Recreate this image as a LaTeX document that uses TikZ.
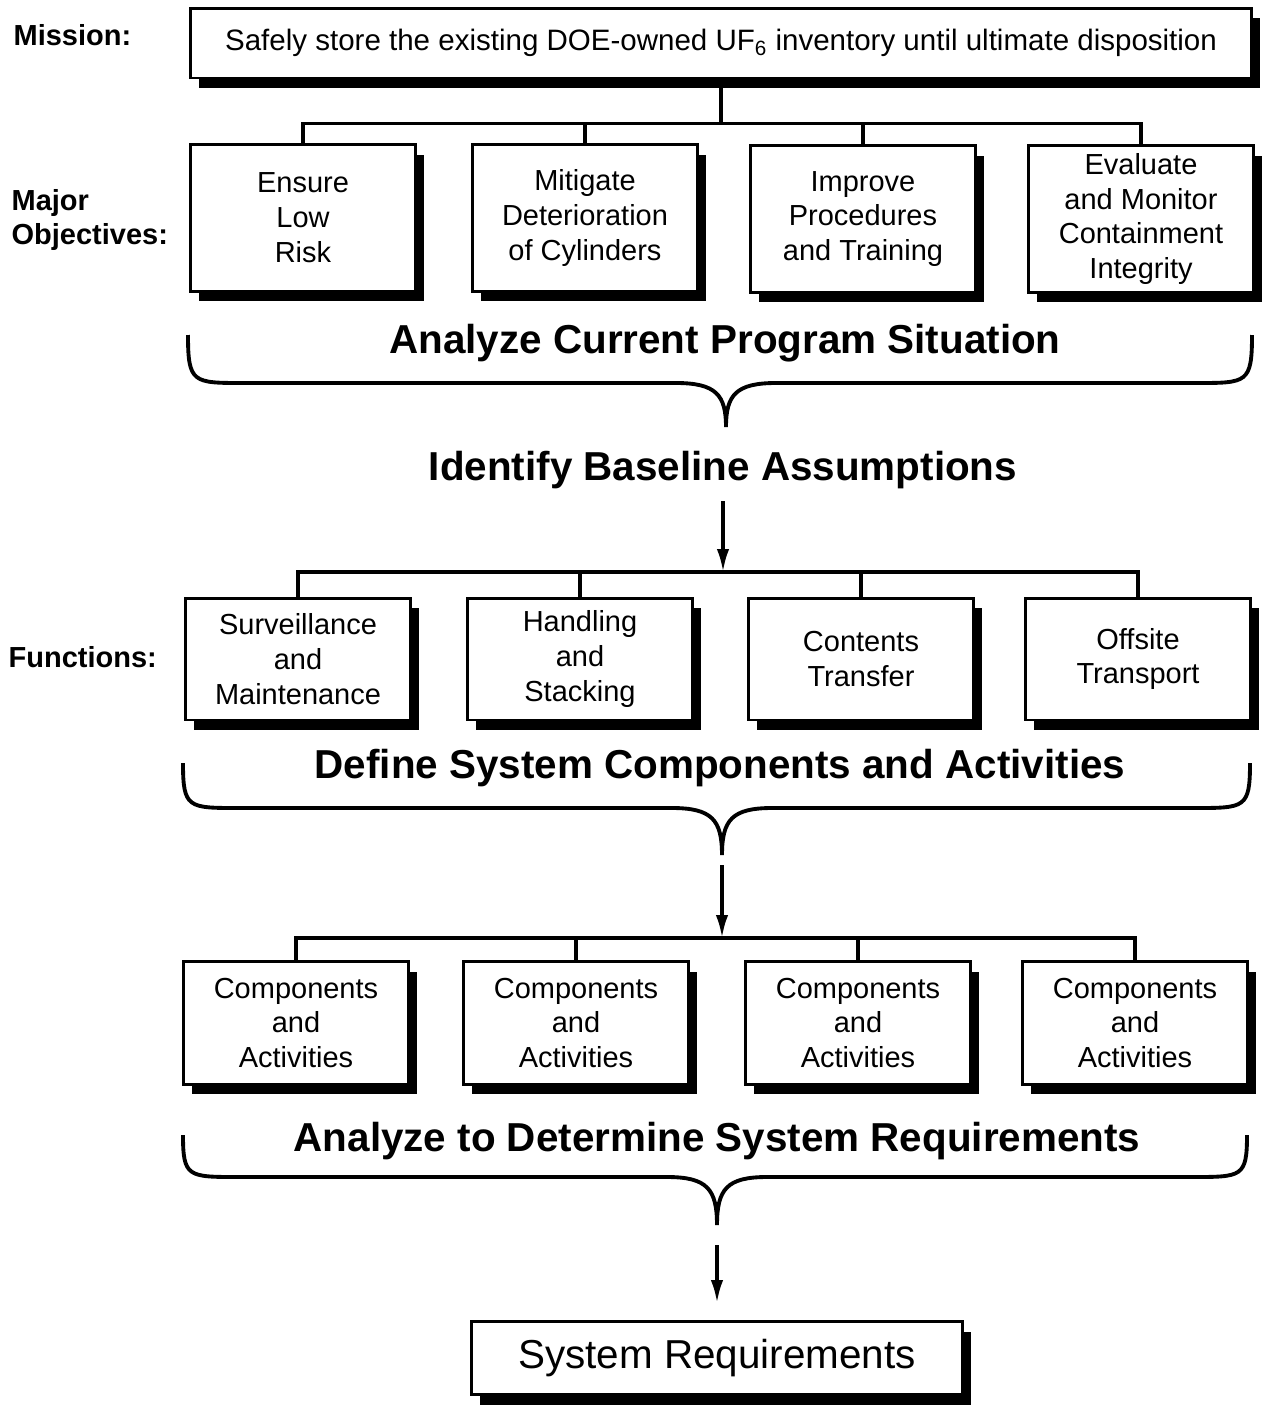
\documentclass[tikz,border=0pt]{standalone}
\usepackage{fontspec}
\setmainfont{Liberation Sans}
\usetikzlibrary{arrows.meta,positioning,shadows}

\begin{document}
\begin{tikzpicture}[x=0.02cm,y=-0.02cm,>={Latex[length=13pt,width=7pt]},line width=1.9pt,
 every node/.style={font=\fontsize{16.5}{19.9}\selectfont},
 box/.style={draw,fill=white,line width=1.7pt,align=center,inner sep=0pt,minimum width=4.5cm,
  drop shadow={shadow xshift=0.17cm,shadow yshift=-0.2cm,fill=black,opacity=1}},
 objbox/.style={box,minimum height=2.94cm},
 funbox/.style={box,minimum height=2.44cm},
 compbox/.style={box,minimum height=2.46cm},
 head/.style={font=\fontsize{23}{27}\selectfont\bfseries},
 side/.style={anchor=west,align=left,inner sep=0pt,font=\fontsize{16.5}{19.9}\selectfont\bfseries},
 brace/.style={line width=2.2pt}]
\useasboundingbox (0,0) rectangle (1262,1413);

% mission and objectives
\node[box,minimum width=21.24cm,minimum height=1.4cm,font=\fontsize{16.8}{20}\selectfont] (mission) at (721,43)
 {Safely store the existing DOE-owned UF\textsubscript{6} inventory until ultimate disposition};
\node[side] (lmission) at (12,35) {Mission:};
\node[objbox] (obj1) at (303,218) {Ensure\\Low\\Risk};
\node[objbox] (obj2) at (585,218) {Mitigate\\Deterioration\\of Cylinders};
\node[objbox] (obj3) at (863,219) {Improve\\Procedures\\and Training};
\node[objbox] (obj4) at (1141,219) {Evaluate\\and Monitor\\Containment\\Integrity};
\node[side] (lobj) at (10,220) {Major\\Objectives:};
\draw (mission.south) -- ++(0,44) coordinate (bar1);
\foreach \b in {obj1,obj2,obj3,obj4}
 \draw (\b.north) |- (bar1);

% functions
\node[funbox] (fun1) at (298,659) {Surveillance\\and\\Maintenance};
\node[funbox] (fun2) at (580,659) {Handling\\and\\Stacking};
\node[funbox] (fun3) at (861,659) {Contents\\Transfer};
\node[funbox] (fun4) at (1138,659) {Offsite\\Transport};
\node[side] (lfun) at (7,657) {Functions:};
\coordinate (bar2) at (723,572);
\foreach \b in {fun1,fun2,fun3,fun4}
 \draw (\b.north) |- (bar2);

% components
\node[compbox] (comp1) at (296,1023) {Components\\and\\Activities};
\node[compbox] (comp2) at (576,1023) {Components\\and\\Activities};
\node[compbox] (comp3) at (858,1023) {Components\\and\\Activities};
\node[compbox] (comp4) at (1135,1023) {Components\\and\\Activities};
\coordinate (bar3) at (722,938);
\foreach \b in {comp1,comp2,comp3,comp4}
 \draw (\b.north) |- (bar3);

% braces and steps
\foreach \i/\xa/\xb/\yt/\yb/\xm/\yp in {1/188/1252/335/383/726/427,2/183/1250/763/808/722/855,3/183/1247/1135/1177/717/1225}
 \draw[brace] (\xa,\yt) .. controls (\xa,\yb) and (\xa+5,\yb) .. (\xa+55,\yb) -- (\xm-50,\yb)
  .. controls (\xm-10,\yb) and (\xm,\yb+12) .. (\xm,\yp) coordinate (tip\i)
  .. controls (\xm,\yb+12) and (\xm+10,\yb) .. (\xm+50,\yb) -- (\xb-55,\yb)
  .. controls (\xb-5,\yb) and (\xb,\yb) .. (\xb,\yt);
\node[head] (analyze) at (725,343) {Analyze Current Program Situation};
\node[head] (ident) at (723,470) {Identify Baseline Assumptions};
\node[head] (define) at (720,768) {Define System Components and Activities};
\node[head] (determine) at (717,1141) {Analyze to Determine System Requirements};
\node[box,minimum width=9.84cm,minimum height=1.46cm,font=\fontsize{23}{27}\selectfont] (req) at (717,1358) {System Requirements};

\draw[->,shorten <=0.1cm] (ident.south) -- (bar2);
\draw[->,shorten <=0.2cm] (tip2) -- (bar3);
\draw[->,shorten <=0.4cm,shorten >=0.34cm] (tip3) -- (req.north);
\end{tikzpicture}
\end{document}
